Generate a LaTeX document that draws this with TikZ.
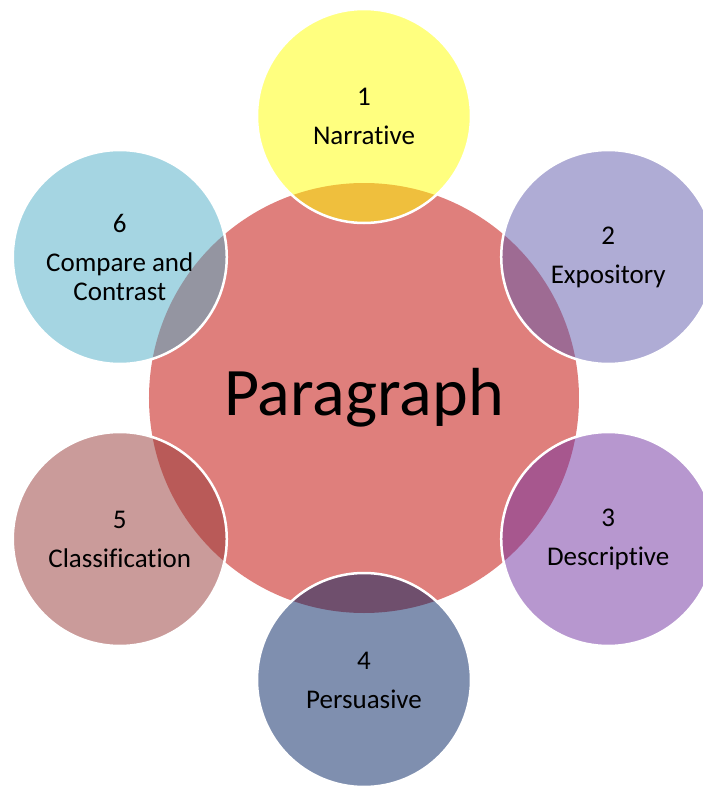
\documentclass[tikz,border=0pt]{standalone}
\usepackage{fontspec}
\setmainfont[Ligatures={NoCommon,NoContextual,NoRequired},Contextuals=NoAlternate]{Carlito}
\usepackage{tikz}
\usetikzlibrary{positioning}

\definecolor{centrered}{RGB}{223,127,124}
\definecolor{narrcol}{RGB}{255,255,0}
\definecolor{expocol}{RGB}{95,89,171}
\definecolor{desccol}{RGB}{112,48,160}
\definecolor{perscol}{RGB}{0,32,96}
\definecolor{classcol}{RGB}{149,55,53}
\definecolor{compcol}{RGB}{75,172,198}

\begin{document}
\begin{tikzpicture}[x=1pt,y=1pt,thick,centre node/.style={circle,fill=centrered,minimum size=430pt,inner sep=0pt,font=\fontsize{68}{80}\selectfont}, outer node/.style={circle,draw=white,line width=2.5pt,fill opacity=0.5,text opacity=1,minimum size=214pt,inner sep=0pt,align=center,font=\fontsize{27}{29}\selectfont}]

  \useasboundingbox (-364,-390) rectangle (339,398);

  \node[centre node] (P) at (0,0) {\raisebox{-4pt}{Paragraph}};

  \node[outer node, fill=narrcol] (1) at (90:282pt) {1\\[10pt]Narrative};
  \node[outer node, fill=expocol] (2) at (30:282pt) {2\\[10pt]Expository};
  \node[outer node, fill=desccol] (3) at (-30:282pt) {3\\[10pt]Descriptive};
  \node[outer node, fill=perscol] (4) at (-90:282pt) {4\\[10pt]Persuasive};
  \node[outer node, fill=classcol] (5) at (-150:282pt) {5\\[10pt]Classification};
  \node[outer node, fill=compcol] (6) at (150:282pt) {6\\[10pt]Compare and\\Contrast};

\end{tikzpicture}
\end{document}
